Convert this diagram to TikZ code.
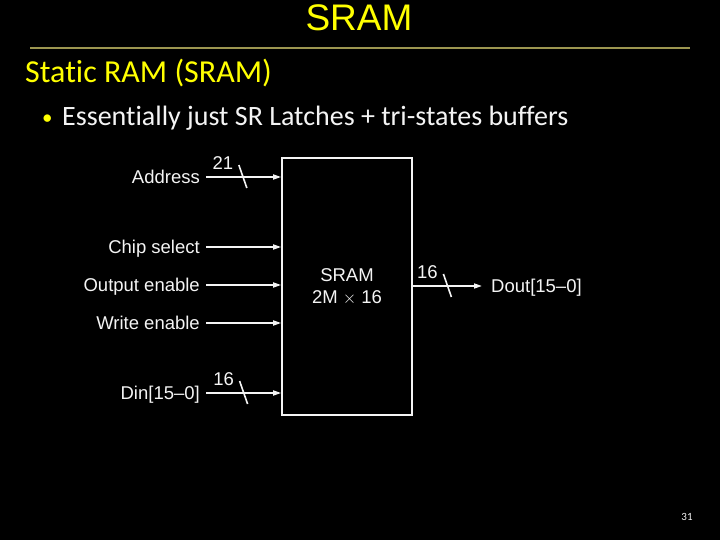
\documentclass[tikz,border=0pt]{standalone}
\usepackage{fontspec}
\setmainfont{Liberation Sans}
\newfontfamily\slidefont[Ligatures=NoCommon]{Carlito}
\usetikzlibrary{arrows.meta,positioning,calc}
\definecolor{slideyellow}{HTML}{FFFF00}
\definecolor{slideline}{HTML}{9C9650}
\definecolor{slideink}{HTML}{F4F4F4}

\tikzset{
  sig/.style={draw=slideink, line width=1.6pt},
  inlabel/.style={anchor=east, text=slideink, inner xsep=6pt, inner ysep=0pt, text height=13pt, text depth=0pt},
  outlabel/.style={anchor=west, text=slideink, inner xsep=9pt, inner ysep=0pt, text height=13pt, text depth=0pt},
  buslabel/.style={text=slideink, inner sep=0pt}
}

\begin{document}
\begin{tikzpicture}[x=1pt, y=-1pt, font=\fontsize{18.5}{20}\selectfont, >={Triangle[length=8pt,width=5pt]}]
  \fill[black] (0,0) rectangle (720,540);
  \useasboundingbox (0,0) rectangle (720,540);

  % slide heading
  \node[text=slideyellow, inner sep=0pt, font=\fontsize{37}{40}\selectfont] (title) at (359,18) {SRAM};
  \coordinate (ruleL) at (30,48);
  \coordinate (ruleR) at (690,48);
  \draw[slideline, line width=1.6pt] (ruleL) -- (ruleR);
  \node[anchor=base west, inner sep=0pt, text=slideyellow, font=\slidefont\fontsize{32}{34}\selectfont] (sub) at (25,83) {Static RAM (SRAM)};
  \node[anchor=base west, inner sep=0pt, text=slideyellow, font=\slidefont\fontsize{21}{22}\selectfont] (dot) at (42,125) {•};
  \node[anchor=base west, inner sep=0pt, text=slideink, font=\slidefont\fontsize{28}{30}\selectfont] (point) at (62,126) {Essentially just SR Latches + tri-states buffers};

  % the memory block
  \node[draw=slideink, line width=1.6pt, minimum width=130pt, minimum height=257pt, align=center, text=slideink] (sram) at (347,286.5)
    {SRAM\\[2pt]2M $\times$ 16};

  \node[inlabel] (addr) at (206,177) {Address};
  \node[inlabel] (cs)   at (206,247) {Chip select};
  \node[inlabel] (oe)   at (206,285) {Output enable};
  \node[inlabel] (we)   at (206,323) {Write enable};
  \node[inlabel] (din)  at (206,393) {Din[15--0]};
  \node[outlabel] (dout) at (482,286) {Dout[15--0]};

  \draw[sig,->] (addr.east) -- (addr.east -| sram.west) coordinate[pos=0.49] (abus);
  \draw[sig,->] (cs.east) -- (cs.east -| sram.west);
  \draw[sig,->] (oe.east) -- (oe.east -| sram.west);
  \draw[sig,->] (we.east) -- (we.east -| sram.west);
  \draw[sig,->] (din.east) -- (din.east -| sram.west) coordinate[pos=0.5] (dbus);
  \draw[sig,->] (sram.east |- dout.west) -- (dout.west) coordinate[pos=0.5] (obus);

  % bus width marks
  \draw[sig] ($(abus)+(-4,-12)$) -- ($(abus)+(4,11)$);
  \node[buslabel] (aw) at ($(abus)+(-20,-14)$) {21};
  \draw[sig] ($(dbus)+(-4,-12)$) -- ($(dbus)+(4,11)$);
  \node[buslabel] (dw) at ($(dbus)+(-20,-14)$) {16};
  \draw[sig] ($(obus)+(-4,-12)$) -- ($(obus)+(4,11)$);
  \node[buslabel] (ow) at ($(obus)+(-20,-14)$) {16};

  \node[text=slideink, inner sep=0pt, font=\slidefont\fontsize{11}{12}\selectfont] (pagenum) at (687,517) {31};
\end{tikzpicture}
\end{document}
